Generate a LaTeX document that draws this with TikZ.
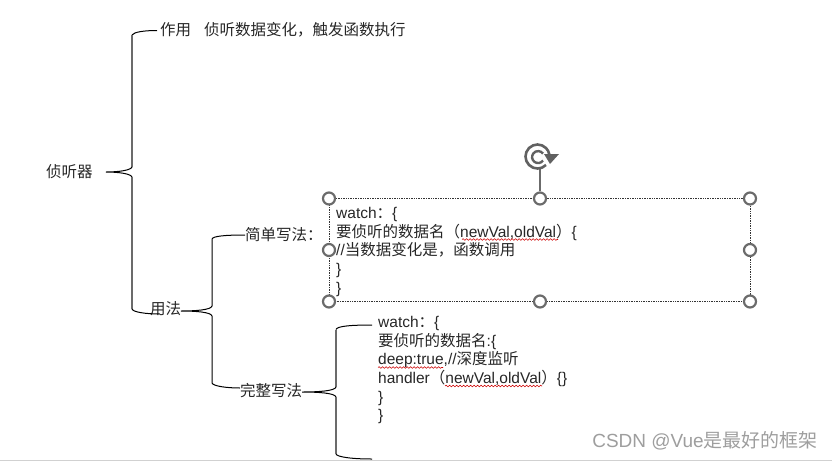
\documentclass[tikz,border=0pt]{standalone}
\usepackage{fontspec}
\setmainfont{Liberation Sans}
\newfontfamily\cjk{Noto Sans CJK SC}
\usetikzlibrary{decorations.pathmorphing}
\tikzset{
  txt/.style={anchor=west,inner sep=0pt,text=black!85,font=\fontsize{15.5}{18.7}\selectfont,align=left},
  curveline/.style={draw=black,line width=1pt},
  stemline/.style={draw=black!58,line width=1.8pt},
  thinline/.style={draw=black,line width=1pt},
  handle/.style={circle,draw=black!58,fill=white,line width=2.2pt,minimum size=12pt,inner sep=0pt},
  squig/.style={draw=red!80!black,line width=0.6pt,decorate,decoration={snake,amplitude=0.8pt,segment length=3.5pt}},
  mark text/.style={text=black!38,anchor=east,inner sep=0pt,font=\fontsize{19}{20}\selectfont},
}
\begin{document}
\begin{tikzpicture}[x=1pt,y=-1pt]
\useasboundingbox (0,0) rectangle (832,461);
% bottom rule
\fill[black!18] (0,459.5) rectangle (832,461);

% texts
\node[txt] (root) at (46,172) {\cjk 侦听器};
\node[txt] (use) at (160,30) {\cjk 作用\hspace{13pt}侦听数据变化，触发函数执行};
\node[txt] (usage) at (150,309) {\cjk 用法};
\node[txt] (simple) at (245,235) {\cjk 简单写法：};
\node[txt] (full) at (240,391) {\cjk 完整写法};
\node[txt,anchor=north west] (box1) at (336,207) {watch{\cjk ：}\{\\{\cjk 要侦听的数据名（}newVal,oldVal{\cjk ）}\{\\//{\cjk 当数据变化是，函数调用}\\\}\\\}};
\node[txt,anchor=north west] (box2) at (378,316) {watch{\cjk ：}\{\\{\cjk 要侦听的数据名}:\{\\deep:true,//{\cjk 深度监听}\\handler{\cjk （}newVal,oldVal{\cjk ）}\{\}\\\}\\\}};
\node[mark text] (mark) at (818,441) {CSDN @Vue{\cjk 是最好的框架}};

% first brace
\coordinate (b1t) at (157,30.5);
\coordinate (b1a) at (132,35);
\coordinate (b1b) at (132,167);
\coordinate (b1tip) at (106,172);
\coordinate (b1c) at (132,177);
\coordinate (b1d) at (132,309);
\coordinate (b1e) at (160,314);
\draw[curveline] (b1t) .. controls (144,30.5) and (134,32) .. (b1a);
\draw[stemline] (b1a) -- (b1b);
\draw[curveline] (b1b) .. controls (131,170) and (120,172) .. (b1tip) .. controls (120,172) and (131,174) .. (b1c);
\draw[stemline] (b1c) -- (b1d);
\draw[curveline] (b1d) .. controls (133,312) and (145,314) .. (b1e);

% second brace
\coordinate (b2t) at (245,235);
\coordinate (b2a) at (212,239);
\coordinate (b2b) at (212,306);
\coordinate (b2tip) at (181,311);
\coordinate (b2c) at (212,316);
\coordinate (b2d) at (212,383);
\coordinate (b2e) at (240,388);
\draw[thinline] (b2t) .. controls (226,235) and (213,236) .. (b2a) -- (b2b)
  .. controls (211,310) and (195,311) .. (b2tip) .. controls (195,311) and (211,312) .. (b2c)
  -- (b2d) .. controls (213,386) and (226,388) .. (b2e);

% third brace
\coordinate (b3t) at (372,325);
\coordinate (b3a) at (336,329.5);
\coordinate (b3b) at (336,387);
\coordinate (b3tip) at (302,392);
\coordinate (b3c) at (336,397);
\coordinate (b3d) at (336,454);
\coordinate (b3e) at (372,459);
\draw[curveline] (b3t) .. controls (352,325) and (337,326) .. (b3a);
\draw[stemline] (b3a) -- (b3b);
\draw[curveline] (b3b) .. controls (335,391) and (318,392) .. (b3tip) .. controls (318,392) and (335,393) .. (b3c);
\draw[stemline] (b3c) -- (b3d);
\draw[curveline] (b3d) .. controls (337,457) and (352,459) .. (b3e);

% squiggles
\coordinate (s1a) at (462,239.5);
\coordinate (s1b) at (558,239.5);
\coordinate (s2a) at (378,367.5);
\coordinate (s2b) at (443,367.5);
\coordinate (s3a) at (445,386);
\coordinate (s3b) at (542,386);
\draw[squig] (s1a) -- (s1b);
\draw[squig] (s2a) -- (s2b);
\draw[squig] (s3a) -- (s3b);

% selection box
\coordinate (boxnw) at (329,198.5);
\coordinate (boxse) at (750,301.5);
\draw[black!80,line width=0.7pt,densely dotted] (boxnw) rectangle (boxse);
\node[handle] (h1) at (329,198.5) {};
\node[handle] (h2) at (540,198.5) {};
\node[handle] (h3) at (750,198.5) {};
\node[handle] (h4) at (329,250) {};
\node[handle] (h5) at (750,250) {};
\node[handle] (h6) at (329,301.5) {};
\node[handle] (h7) at (540,301.5) {};
\node[handle] (h8) at (750,301.5) {};

% rotation handle
\coordinate (rotstem) at (540,168);
\draw[draw=black!58,line width=1.6pt] (h2) -- (rotstem);
\draw[black!62,line width=2.6pt] (546,165) arc[start angle=45,end angle=350,radius=12];
\draw[black!62,line width=2.4pt] (543,160.5) arc[start angle=35,end angle=325,radius=6];
\fill[black!62] (544,154) -- (559,154) -- (550,164) -- cycle;
\end{tikzpicture}
\end{document}
